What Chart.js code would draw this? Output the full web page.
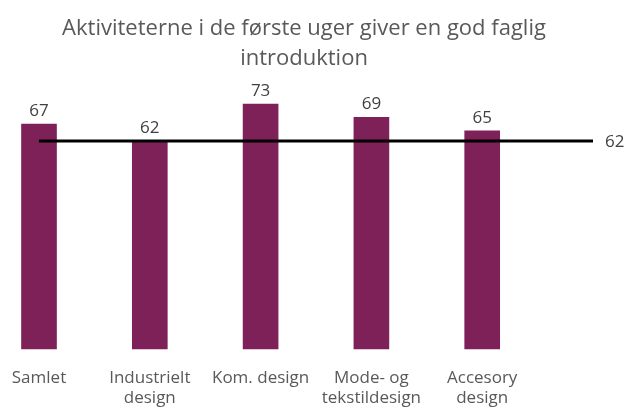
<!DOCTYPE html>
<html>
<head>
<meta charset="utf-8">
<script src="https://cdn.jsdelivr.net/npm/chart.js@4"></script>
<style>
  html, body { margin: 0; padding: 0; background: #fff; }
  #wrap { width: 627px; height: 408px; }
</style>
</head>
<body>
<div id="wrap"><canvas id="chart"></canvas></div>
<script>
  // data
  var categories = ['Samlet', ['Industrielt', 'design'], 'Kom. design', ['Mode- og', 'tekstildesign'], ['Accesory', 'design'], ''];
  var scores = [67, 62, 73, 69, 65];
  var average = [62, 62, 62, 62, 62, 62];
  var titleLines = ['Aktiviteterne i de første uger giver en god faglig', 'introduktion'];

  Chart.defaults.font.family = "'Open Sans', sans-serif";
  Chart.defaults.color = '#595959';

  // value labels over bars and at the end of the average line
  var valueLabels = {
    id: 'valueLabels',
    afterDatasetsDraw: function(chart) {
      var ctx = chart.ctx;
      ctx.save();
      ctx.font = "17px 'Open Sans', sans-serif";
      ctx.fillStyle = '#404040';
      var bars = chart.getDatasetMeta(1).data;
      ctx.textAlign = 'center';
      ctx.textBaseline = 'alphabetic';
      bars.forEach(function(bar, i) {
        ctx.fillText(scores[i], bar.x, bar.y - 8);
      });
      var pts = chart.getDatasetMeta(0).data;
      var last = pts[pts.length - 1];
      ctx.textAlign = 'left';
      ctx.textBaseline = 'middle';
      ctx.fillText(average[average.length - 1], last.x + 12, last.y + 1);
      ctx.restore();
    }
  };

  var ctx = document.getElementById('chart').getContext('2d');
  new Chart(ctx, {
    data: {
      labels: categories,
      datasets: [
        {
          type: 'line',
          label: 'Gennemsnit',
          data: average,
          borderColor: '#000000',
          borderWidth: 3,
          pointRadius: 0,
          order: 0,
          clip: false
        },
        {
          type: 'bar',
          label: 'Score',
          data: scores,
          backgroundColor: '#7E2159',
          barThickness: 35,
          order: 1,
          clip: false
        }
      ]
    },
    options: {
      responsive: true,
      maintainAspectRatio: false,
      animation: false,
      layout: { padding: { left: 0, right: 19, top: 0, bottom: 0 } },
      plugins: {
        legend: { display: false },
        tooltip: { enabled: false },
        title: {
          display: true,
          text: titleLines,
          color: '#595959',
          font: { size: 22, weight: 'normal', lineHeight: '30px' },
          padding: { top: 14, bottom: 6.5 }
        }
      },
      scales: {
        x: {
          offset: false,
          grid: { display: false, drawTicks: true, tickLength: 16 },
          border: { display: false },
          ticks: {
            autoSkip: false,
            maxRotation: 0,
            padding: 3,
            color: '#595959',
            font: { size: 17, lineHeight: '20px' }
          },
          afterFit: function(s) { s.height = 59; }
        },
        y: {
          position: 'left',
          min: 0,
          max: 80,
          grid: { display: false, drawTicks: false },
          border: { display: false },
          ticks: { display: false },
          afterFit: function(s) { s.width = 39; }
        },
        y2: {
          position: 'right',
          min: 0,
          max: 80,
          grid: { display: false, drawTicks: false },
          border: { display: false },
          ticks: { display: false },
          afterFit: function(s) { s.width = 15; }
        }
      }
    },
    plugins: [valueLabels]
  });
</script>
</body>
</html>
